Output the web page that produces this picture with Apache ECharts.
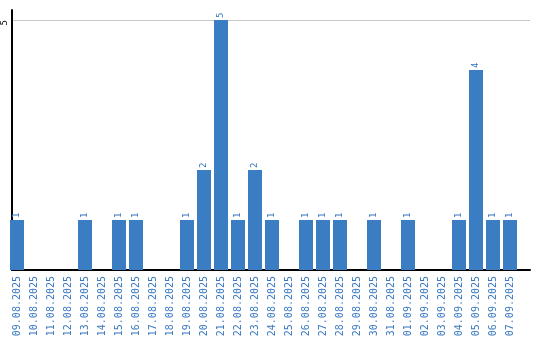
<!DOCTYPE html>
<html>
<head>
<meta charset="utf-8">
<script src="https://cdn.jsdelivr.net/npm/echarts@6/dist/echarts.min.js"></script>
<style>
html, body { margin: 0; padding: 0; background: #fff; }
#barEchart { width: 540px; height: 340px; }
</style>
</head>
<body>
<div id="barEchart"></div>
<script>
// categories: days
var days = ['09.08.2025', '10.08.2025', '11.08.2025', '12.08.2025', '13.08.2025', '14.08.2025',
	'15.08.2025', '16.08.2025', '17.08.2025', '18.08.2025', '19.08.2025', '20.08.2025',
	'21.08.2025', '22.08.2025', '23.08.2025', '24.08.2025', '25.08.2025', '26.08.2025',
	'27.08.2025', '28.08.2025', '29.08.2025', '30.08.2025', '31.08.2025', '01.09.2025',
	'02.09.2025', '03.09.2025', '04.09.2025', '05.09.2025', '06.09.2025', '07.09.2025'];
// counts per day (0 = no bar)
var counts = [1, 0, 0, 0, 1, 0, 1, 1, 0, 0, 1, 2, 5, 1, 2, 1, 0, 1, 1, 1, 0, 1, 0, 1, 0, 0, 1, 4, 1, 1];
var yTicks = [5];

var barColor = '#3b7dc3';
var labelColor = '#3a78c0';

var myChart = echarts.init(document.getElementById('barEchart'));

var barData = counts.map(function(v) { return v > 0 ? v : null; });

var option = {
	animation : false,
	grid : [
		{ left : 8.5, width : 510, top : 10, bottom : 70 },
		{ left : 10, right : 10, top : 10, bottom : 70 }
	],
	xAxis : [ {
		type : 'category',
		gridIndex : 0,
		data : days,
		axisLine : { show : false },
		axisTick : { show : false },
		axisLabel : {
			interval : 0,
			rotate : 90,
			margin : 6,
			color : labelColor,
			fontSize : 10,
			fontFamily : 'DejaVu Sans Mono'
		}
	}, {
		// frame line along the bottom
		type : 'value',
		gridIndex : 1,
		min : 0,
		max : 1,
		axisLine : { show : true, lineStyle : { color : '#000', width : 2 } },
		axisTick : { show : false },
		axisLabel : { show : false },
		splitLine : { show : false }
	} ],
	yAxis : [ {
		type : 'value',
		gridIndex : 0,
		min : 0,
		max : 5.2,
		show : false
	}, {
		type : 'value',
		gridIndex : 1,
		min : 0,
		max : 5.2,
		interval : 5,
		axisLine : { show : true, lineStyle : { color : '#000', width : 2 } },
		axisTick : { show : false },
		axisLabel : {
			rotate : 90,
			margin : 3,
			align : 'right',
			verticalAlign : 'bottom',
			color : '#000',
			fontSize : 9,
			fontFamily : 'DejaVu Sans Mono',
			showMinLabel : false,
			showMaxLabel : false,
			formatter : function(v) { return yTicks.indexOf(v) >= 0 ? String(v) : ''; }
		},
		splitLine : {
			show : true,
			showMinLine : false,
			showMaxLine : false,
			lineStyle : { color : '#c8c8c8', width : 1 }
		}
	} ],
	series : [ {
		type : 'bar',
		xAxisIndex : 0,
		yAxisIndex : 0,
		data : barData,
		barWidth : 14,
		itemStyle : { color : barColor },
		label : {
			show : true,
			position : 'top',
			rotate : 90,
			align : 'left',
			verticalAlign : 'middle',
			distance : 2,
			color : labelColor,
			fontSize : 9,
			fontFamily : 'DejaVu Sans Mono'
		}
	} ]
};

myChart.setOption(option);
</script>
</body>
</html>
